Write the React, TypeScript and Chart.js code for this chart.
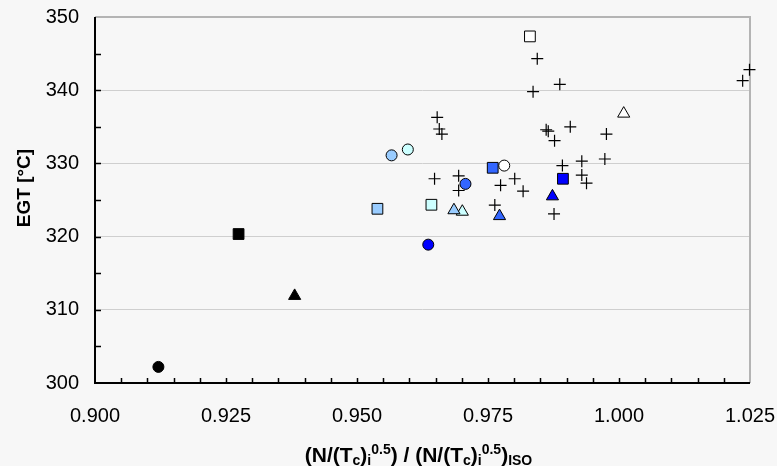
import React, { useEffect, useRef } from "react";
import { Chart, registerables } from "chart.js";

Chart.register(...registerables);

// ---- axis ranges / ticks ----
const xMin = 0.9;
const xMax = 1.025;
const xLabelStep = 0.025;
const xMinorStep = 0.005;
const yMin = 300;
const yMax = 350;
const yLabelStep = 10;
const yMinorStep = 5;
const yGridValues = [310, 320, 330, 340];

// ---- marker groups (one colour each: circle, square, triangle) ----
const groupNames = ["black", "lightBlue", "lightCyan", "blue", "mediumBlue", "white"];
const circleX = [0.9121, 0.9566, 0.9597, 0.9636, 0.9707, 0.9781];
const circleY = [302.2, 331.1, 331.9, 318.9, 327.2, 329.7];
const squareX = [0.9274, 0.9539, 0.9642, 0.9893, 0.9759, 0.983];
const squareY = [320.35, 323.8, 324.35, 327.9, 329.4, 347.35];
const triangleX = [0.9381, 0.9685, 0.9701, 0.9873, 0.9772, 1.0009];
const triangleY = [311.9, 323.6, 323.4, 325.5, 322.8, 336.8];

// ---- "+" markers ----
const crossX = [
  0.9844, 0.9836, 0.9887, 1.0249, 1.0236, 0.9653, 0.9657, 0.9662, 0.9648,
  0.9694, 0.9694, 0.9774, 0.9801, 0.9817, 0.9763, 0.9861, 0.9865, 0.9877,
  0.9876, 0.9907, 0.9976, 0.9892, 0.9929, 0.9973, 0.9929, 0.9938,
];
const crossY = [
  344.3, 339.8, 340.8, 342.8, 341.3, 336.3, 334.7, 334.0, 327.9, 328.3,
  326.3, 327.0, 327.9, 326.2, 324.3, 334.6, 334.4, 333.1, 323.1, 335.0,
  334.0, 329.7, 330.3, 330.6, 328.4, 327.3,
];

// ---- texts ----
const yTitle = "EGT [°C]";
const xTitleParts: [string, "m" | "sub" | "sup"][] = [
  ["(N/(T", "m"],
  ["c", "sub"],
  [")", "m"],
  ["i", "sub"],
  ["0.5", "sup"],
  [") / (N/(T", "m"],
  ["c", "sub"],
  [")", "m"],
  ["i", "sub"],
  ["0.5", "sup"],
  [")", "m"],
  ["ISO", "sub"],
];

// ---- styles ----
const groupFill: Record<string, string> = {
  black: "#000000",
  lightBlue: "#99CCFF",
  lightCyan: "#CCFFFF",
  blue: "#0000FF",
  mediumBlue: "#3366FF",
  white: "#FFFFFF",
};
const FONT = "Arial, 'Liberation Sans', sans-serif";
const BG = "#f7f7f7";

const framePlugin = {
  id: "frame",
  beforeDraw(chart: any) {
    const { ctx, width, height } = chart;
    ctx.save();
    ctx.fillStyle = BG;
    ctx.fillRect(0, 0, width, height);
    ctx.restore();
  },
  beforeDatasetsDraw(chart: any) {
    const { ctx, chartArea: a, scales } = chart;
    const xs = scales.x;
    const ys = scales.y;
    ctx.save();
    ctx.strokeStyle = "#b4b4b4";
    ctx.lineWidth = 2;
    ctx.beginPath();
    ctx.moveTo(a.left, a.top);
    ctx.lineTo(a.right, a.top);
    ctx.lineTo(a.right, a.bottom);
    ctx.stroke();

    ctx.strokeStyle = "#000";
    ctx.lineWidth = 2;
    ctx.beginPath();
    ctx.moveTo(a.left, a.top);
    ctx.lineTo(a.left, a.bottom);
    ctx.lineTo(a.right, a.bottom);
    ctx.stroke();

    ctx.lineWidth = 1.5;
    ctx.beginPath();
    const ny = Math.round((yMax - yMin) / yMinorStep);
    for (let k = 1; k < ny; k++) {
      const p = Math.round(ys.getPixelForValue(yMin + k * yMinorStep)) + 0.5;
      ctx.moveTo(a.left, p);
      ctx.lineTo(a.left + 6, p);
    }
    const nx = Math.round((xMax - xMin) / xMinorStep);
    for (let k = 1; k < nx; k++) {
      const p = Math.round(xs.getPixelForValue(xMin + k * xMinorStep)) + 0.5;
      ctx.moveTo(p, a.bottom);
      ctx.lineTo(p, a.bottom - 5);
    }
    ctx.stroke();
    ctx.restore();
  },
  afterDraw(chart: any) {
    const { ctx, chartArea: a } = chart;
    ctx.save();
    ctx.fillStyle = "#000";
    // y title
    ctx.font = `bold 19px ${FONT}`;
    ctx.textAlign = "center";
    ctx.textBaseline = "middle";
    ctx.translate(25, 188);
    ctx.rotate(-Math.PI / 2);
    ctx.fillText(yTitle, 0, 0);
    ctx.setTransform(1, 0, 0, 1, 0, 0);

    // x title
    const mainFont = `bold 21px ${FONT}`;
    const smallFont = `bold 14px ${FONT}`;
    const widths = xTitleParts.map(([t, k]) => {
      ctx.font = k === "m" ? mainFont : smallFont;
      return ctx.measureText(t).width;
    });
    const total = widths.reduce((s, w) => s + w, 0);
    let x = (a.left + a.right) / 2 - total / 2 - 4;
    const base = 462;
    ctx.textAlign = "left";
    ctx.textBaseline = "alphabetic";
    xTitleParts.forEach(([t, k], i) => {
      ctx.font = k === "m" ? mainFont : smallFont;
      const y = k === "m" ? base : k === "sub" ? base + 3 : base - 8;
      ctx.fillText(t, x, y);
      x += widths[i];
    });
    ctx.restore();
  },
};

export default function App() {
  const ref = useRef<HTMLCanvasElement | null>(null);

  useEffect(() => {
    if (!ref.current) return;
    const datasets: any[] = [];
    groupNames.forEach((g, i) => {
      const common = {
        backgroundColor: groupFill[g],
        borderColor: "#000",
        borderWidth: 1,
        clip: false,
      };
      datasets.push({ ...common, label: `${g} circle`, data: [{ x: circleX[i], y: circleY[i] }], pointStyle: "circle", pointRadius: 5.5 });
      datasets.push({ ...common, label: `${g} square`, data: [{ x: squareX[i], y: squareY[i] }], pointStyle: "rect", pointRadius: 7.6 });
      datasets.push({ ...common, label: `${g} triangle`, data: [{ x: triangleX[i], y: triangleY[i] }], pointStyle: "triangle", pointRadius: 7 });
    });
    datasets.push({
      label: "other",
      data: crossX.map((x, i) => ({ x, y: crossY[i] })),
      pointStyle: "cross",
      pointRadius: 6,
      borderColor: "#000",
      borderWidth: 1.2,
      clip: false,
    });

    const chart = new Chart(ref.current, {
      type: "scatter",
      data: { datasets },
      options: {
        animation: false,
        responsive: false,
        maintainAspectRatio: false,
        layout: { padding: { top: 17, right: 27, left: 0, bottom: 0 } },
        plugins: { legend: { display: false }, tooltip: { enabled: false } },
        scales: {
          x: {
            type: "linear",
            min: xMin,
            max: xMax,
            afterFit: (s: any) => {
              s.height = 83;
              s.paddingLeft = 0;
              s.paddingRight = 0;
            },
            afterBuildTicks: (s: any) => {
              const n = Math.round((xMax - xMin) / xLabelStep);
              s.ticks = Array.from({ length: n + 1 }, (_, k) => ({ value: xMin + k * xLabelStep }));
            },
            ticks: {
              font: { family: FONT, size: 20 },
              color: "#000",
              padding: 21,
              maxRotation: 0,
              autoSkip: false,
              callback: (v: any) => Number(v).toFixed(3),
            },
            grid: { display: false, drawTicks: false },
            border: { display: false },
          },
          y: {
            type: "linear",
            min: yMin,
            max: yMax,
            afterFit: (s: any) => {
              s.width = 95;
              s.paddingTop = 0;
              s.paddingBottom = 0;
            },
            ticks: {
              stepSize: yLabelStep,
              font: { family: FONT, size: 20 },
              color: "#000",
              padding: 16,
            },
            grid: {
              drawTicks: false,
              color: (c: any) => (yGridValues.includes(c.tick?.value) ? "#cfcfcf" : "rgba(0,0,0,0)"),
              lineWidth: 1,
            },
            border: { display: false },
          },
        },
      },
      plugins: [framePlugin],
    });
    return () => chart.destroy();
  }, []);

  return (
    <div style={{ position: "fixed", left: 0, top: 0, width: 777, height: 466, background: BG }}>
      <canvas ref={ref} width={777} height={466} style={{ display: "block", width: 777, height: 466 }} />
    </div>
  );
}
